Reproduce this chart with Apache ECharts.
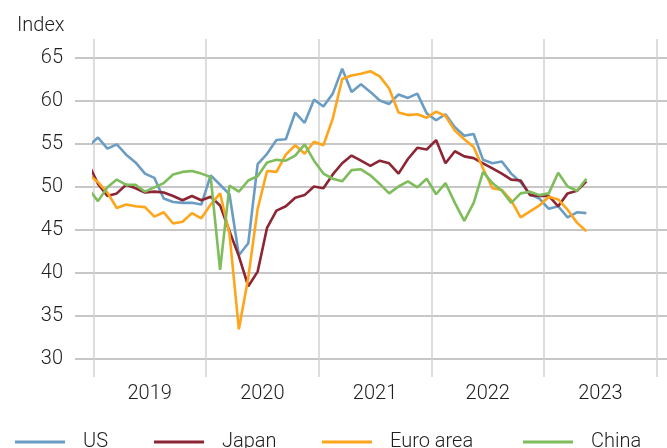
<!DOCTYPE html>
<html>
<head>
<meta charset="utf-8">
<script src="https://cdn.jsdelivr.net/npm/echarts@6/dist/echarts.min.js"></script>
<style>
  html, body { margin: 0; padding: 0; background: #fff; }
  #chart { width: 667px; height: 448px; }
</style>
</head>
<body>
<div id="chart"></div>
<script>
// monthly PMI, Dec 2018 .. May 2023
let months = [
  '2018-12',
  '2019-01','2019-02','2019-03','2019-04','2019-05','2019-06','2019-07','2019-08','2019-09','2019-10','2019-11','2019-12',
  '2020-01','2020-02','2020-03','2020-04','2020-05','2020-06','2020-07','2020-08','2020-09','2020-10','2020-11','2020-12',
  '2021-01','2021-02','2021-03','2021-04','2021-05','2021-06','2021-07','2021-08','2021-09','2021-10','2021-11','2021-12',
  '2022-01','2022-02','2022-03','2022-04','2022-05','2022-06','2022-07','2022-08','2022-09','2022-10','2022-11','2022-12',
  '2023-01','2023-02','2023-03','2023-04','2023-05'
];
let us = [
  54.7,
  55.7, 54.4, 54.9, 53.7, 52.8, 51.5, 51.0, 48.6, 48.2, 48.1, 48.1, 47.9,
  51.3, 50.2, 49.1, 42.0, 43.4, 52.6, 53.8, 55.4, 55.5, 58.6, 57.4, 60.1,
  59.3, 60.8, 63.7, 61.0, 61.9, 61.0, 60.0, 59.6, 60.7, 60.3, 60.8, 58.5,
  57.7, 58.4, 56.9, 55.9, 56.1, 53.1, 52.7, 52.9, 51.5, 50.5, 49.1, 48.6,
  47.4, 47.7, 46.4, 47.0, 46.9
];
let japan = [
  52.6,
  50.3, 48.9, 49.2, 50.2, 49.8, 49.3, 49.4, 49.3, 48.9, 48.4, 48.9, 48.4,
  48.8, 47.8, 44.8, 41.9, 38.4, 40.1, 45.2, 47.2, 47.7, 48.7, 49.0, 50.0,
  49.8, 51.4, 52.7, 53.6, 53.0, 52.4, 53.0, 52.7, 51.5, 53.2, 54.5, 54.3,
  55.4, 52.7, 54.1, 53.5, 53.3, 52.7, 52.1, 51.5, 50.8, 50.7, 49.0, 48.9,
  48.9, 47.7, 49.2, 49.5, 50.6
];
let euro = [
  51.4,
  50.5, 49.3, 47.5, 47.9, 47.7, 47.6, 46.5, 47.0, 45.7, 45.9, 46.9, 46.3,
  47.9, 49.2, 44.5, 33.4, 39.4, 47.4, 51.8, 51.7, 53.7, 54.8, 53.8, 55.2,
  54.8, 57.9, 62.5, 62.9, 63.1, 63.4, 62.8, 61.4, 58.6, 58.3, 58.4, 58.0,
  58.7, 58.2, 56.5, 55.5, 54.6, 52.1, 49.8, 49.6, 48.4, 46.4, 47.1, 47.8,
  48.8, 48.5, 47.3, 45.8, 44.8
];
let china = [
  49.7,
  48.3, 49.9, 50.8, 50.2, 50.2, 49.4, 49.9, 50.4, 51.4, 51.7, 51.8, 51.5,
  51.1, 40.3, 50.1, 49.4, 50.7, 51.2, 52.8, 53.1, 53.0, 53.6, 54.9, 53.0,
  51.5, 50.9, 50.6, 51.9, 52.0, 51.3, 50.3, 49.2, 50.0, 50.6, 49.9, 50.9,
  49.1, 50.4, 48.1, 46.0, 48.1, 51.7, 50.4, 49.5, 48.1, 49.2, 49.4, 49.0,
  49.2, 51.6, 50.0, 49.5, 50.9
];
let years = ['2019', '2020', '2021', '2022', '2023'];
let yTicks = [30, 65];

let names = ['US', 'Japan', 'Euro area', 'China'];
let colors = ['#6b9cc3', '#8c2634', '#ffa51c', '#7fbc5c'];
let seriesData = [us, japan, euro, china];

let font = 'Roboto';
let textColor = '#1e1e1e';

// month index: 0 = start of Jan 2019, points sit mid-month
function toPoints(arr) {
  return arr.map(function (v, i) {
    let m = months[i].split('-');
    let idx = (Number(m[0]) - 2019) * 12 + Number(m[1]) - 1;
    return [idx + 0.5, v];
  });
}

// plot geometry: horizontal grid 30..65 spans y 57..358
let gridTop = 57.5, gridH = 301;
let pxPerUnit = gridH / (yTicks[1] - yTicks[0]);
let plotTop = 39, plotBottom = 377;
let yMinOuter = yTicks[0] - (plotBottom - (gridTop + gridH)) / pxPerUnit;
let yMaxOuter = yTicks[1] + (gridTop - plotTop) / pxPerUnit;

let chart = echarts.init(document.getElementById('chart'));

let legendLeft = [10, 149, 317, 518];

chart.setOption({
  animation: false,
  textStyle: { fontFamily: font, fontWeight: 300 },
  title: {
    text: 'Index',
    left: 12,
    top: 11,
    textStyle: { fontFamily: font, fontWeight: 300, fontSize: 20, color: textColor }
  },
  legend: names.map(function (n, i) {
    return {
      data: [n],
      left: legendLeft[i],
      top: 427,
      icon: 'rect',
      itemWidth: 50,
      itemHeight: 3,
      textStyle: {
        fontFamily: font, fontWeight: 300, fontSize: 20, color: textColor,
        padding: [0, 0, 0, 13]
      }
    };
  }),
  grid: [
    { left: 75, right: 0, top: gridTop, height: gridH },
    { left: 93.3, width: 563.5, top: plotTop, height: plotBottom - plotTop }
  ],
  xAxis: [
    { gridIndex: 0, type: 'value', min: 0, max: 1, show: false },
    {
      gridIndex: 1, type: 'value', position: 'bottom', min: 0, max: 60, interval: 12,
      axisLine: { show: false },
      axisTick: { show: false },
      axisLabel: { show: false },
      splitLine: { show: true, lineStyle: { color: '#d2d2d2', width: 1.5 } }
    },
    {
      gridIndex: 1, type: 'value', position: 'bottom', offset: 0, min: 0, max: 60, interval: 6,
      axisLine: { show: false },
      axisTick: { show: false },
      splitLine: { show: false },
      axisLabel: {
        margin: 7,
        fontFamily: font, fontWeight: 300, fontSize: 20, color: textColor,
        formatter: function (v) {
          return v % 12 === 6 ? years[(v - 6) / 12] : '';
        }
      }
    }
  ],
  yAxis: [
    {
      gridIndex: 0, type: 'value', min: yTicks[0], max: yTicks[1], interval: 5,
      axisLine: { show: false },
      axisTick: { show: false },
      axisLabel: { margin: 12, fontFamily: font, fontWeight: 300, fontSize: 20, color: textColor },
      splitLine: { show: true, lineStyle: { color: '#b4b4b4', width: 1.5 } }
    },
    { gridIndex: 1, type: 'value', min: yMinOuter, max: yMaxOuter, show: false }
  ],
  series: names.map(function (n, i) {
    return {
      name: n,
      type: 'line',
      xAxisIndex: 2,
      yAxisIndex: 1,
      data: toPoints(seriesData[i]),
      showSymbol: false,
      symbol: 'none',
      clip: true,
      lineStyle: { color: colors[i], width: 2.6 },
      itemStyle: { color: colors[i] }
    };
  })
});
</script>
</body>
</html>
